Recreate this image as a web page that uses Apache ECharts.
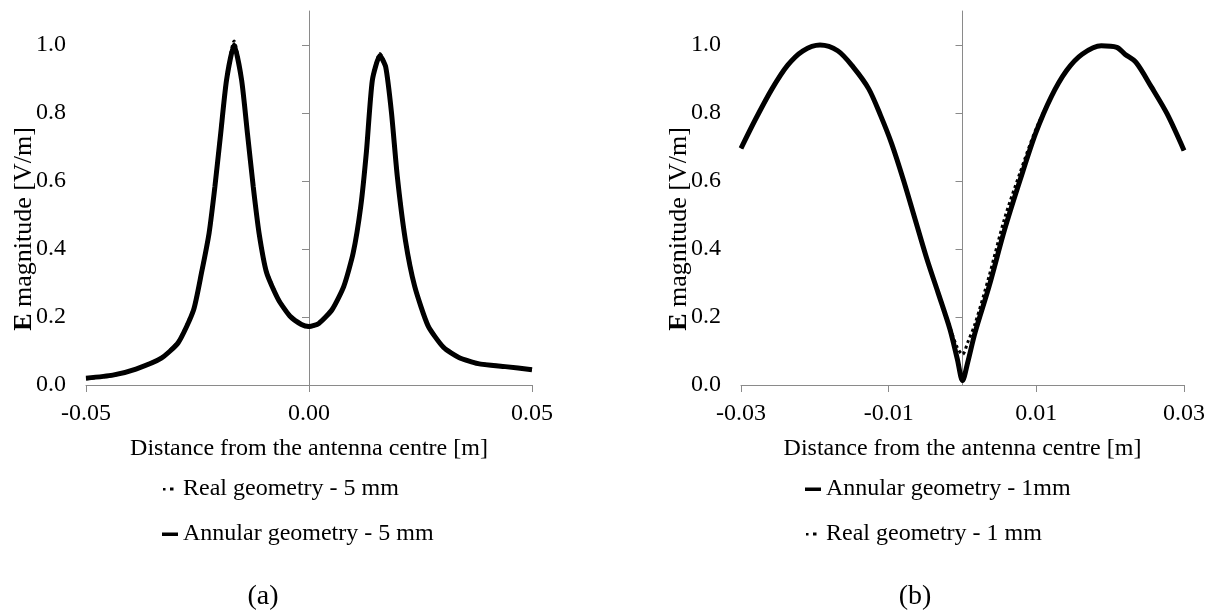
<!DOCTYPE html>
<html>
<head>
<meta charset="utf-8">
<script src="https://cdn.jsdelivr.net/npm/echarts@6/dist/echarts.min.js"></script>
<style>
  html, body { margin: 0; padding: 0; background: #fff; }
  #main { width: 1210px; height: 613px; }
</style>
</head>
<body>
<div id="main"></div>
<script>
// (a) 5 mm
const xA = [-0.05, -0.044, -0.0388, -0.0332, -0.0293, -0.0259, -0.0241, -0.0224, -0.0211, -0.0198,
  -0.0185, -0.0168, -0.0151, -0.0138, -0.0125, -0.0112, -0.0095, -0.0069, -0.0043, -0.0017,
  0, 0.0022, 0.0052, 0.0078, 0.0099, 0.0116, 0.0129, 0.0142, 0.0159, 0.0172,
  0.0185, 0.0198, 0.0216, 0.0237, 0.0267, 0.0302, 0.0336, 0.0379, 0.044, 0.05];
const realA = [0.018, 0.028, 0.046, 0.08, 0.128, 0.225, 0.335, 0.45, 0.59, 0.75,
  0.905, 1.012, 0.9, 0.745, 0.59, 0.45, 0.335, 0.255, 0.205, 0.18,
  0.17, 0.18, 0.22, 0.288, 0.385, 0.52, 0.69, 0.9, 0.975, 0.94,
  0.805, 0.62, 0.43, 0.292, 0.176, 0.112, 0.082, 0.064, 0.055, 0.046];
const annularA = [0.02, 0.029, 0.047, 0.078, 0.125, 0.22, 0.33, 0.447, 0.583, 0.74,
  0.896, 1.0, 0.896, 0.74, 0.583, 0.447, 0.33, 0.252, 0.203, 0.178,
  0.172, 0.181, 0.222, 0.29, 0.388, 0.525, 0.69, 0.896, 0.969, 0.935,
  0.80, 0.613, 0.427, 0.29, 0.174, 0.11, 0.081, 0.063, 0.054, 0.045];

// (b) 1 mm
const xB = [-0.030, -0.028, -0.0258, -0.0237, -0.0216, -0.0193, -0.0169, -0.0148, -0.0127, -0.0111,
  -0.0096, -0.008, -0.0064, -0.0048, -0.0033, -0.0017, -0.0007, 0, 0.0007, 0.0017,
  0.0036, 0.0057, 0.0078, 0.0099, 0.012, 0.0141, 0.0162, 0.0188, 0.0209, 0.022,
  0.0235, 0.0256, 0.0277, 0.030];
const annularB = [0.696, 0.783, 0.871, 0.94, 0.983, 1.0, 0.983, 0.935, 0.871, 0.793,
  0.71, 0.603, 0.486, 0.369, 0.271, 0.164, 0.076, 0.013, 0.066, 0.154,
  0.29, 0.457, 0.603, 0.74, 0.847, 0.925, 0.973, 0.998, 0.993, 0.973,
  0.949, 0.876, 0.798, 0.69];
const realB = [0.696, 0.783, 0.871, 0.94, 0.983, 1.0, 0.983, 0.935, 0.871, 0.793,
  0.71, 0.603, 0.486, 0.369, 0.275, 0.17, 0.11, 0.09, 0.125, 0.18,
  0.32, 0.49, 0.625, 0.75, 0.847, 0.925, 0.973, 0.998, 0.993, 0.973,
  0.949, 0.876, 0.798, 0.69];

// tick labels
const xTicksA = [-0.05, 0, 0.05];
const xTicksB = [-0.03, -0.01, 0.01, 0.03];
const yTicks = [0, 0.2, 0.4, 0.6, 0.8, 1.0];

const FONT = "'Liberation Serif', 'Times New Roman', serif";
const GREY = '#8a8a8a';

function zip(xs, ys) {
  return xs.map((x, i) => [x, ys[i]]);
}

function xAxisOf(idx, min, max, ticks) {
  return {
    type: 'value', gridIndex: idx, min: min, max: max,
    name: 'Distance from the antenna centre [m]',
    nameLocation: 'middle', nameGap: 52,
    nameTextStyle: { fontFamily: FONT, fontSize: 24, color: '#000' },
    axisLine: { lineStyle: { color: GREY, width: 1 } },
    axisTick: { show: true, length: 7, customValues: ticks, lineStyle: { color: GREY } },
    axisLabel: {
      customValues: ticks, margin: 17,
      fontFamily: FONT, fontSize: 24, color: '#000',
      formatter: v => v.toFixed(2)
    },
    splitLine: { show: false }
  };
}

function yAxisOf(idx) {
  return {
    type: 'value', gridIndex: idx, min: 0, max: 1.1,
    axisLine: { show: true, onZero: true, lineStyle: { color: GREY, width: 1 } },
    axisTick: { show: true, length: 7, customValues: yTicks, lineStyle: { color: GREY } },
    axisLabel: {
      customValues: yTicks, margin: 20,
      fontFamily: FONT, fontSize: 24, color: '#000',
      formatter: v => v.toFixed(1)
    },
    splitLine: { show: false }
  };
}

const solid = { color: '#000', width: 5 };
const dotted = { color: '#000', width: 3, type: 'dotted' };

const dotIcon = 'path://M0,0h0.01v0.01h-0.01z M16,5h-0.01v-0.01h0.01z M1,1.5h2.5v2.5h-2.5z M8,1h3.5v3h-3.5z';
const dashIcon = 'path://M0,1h16v3.5h-16z M0,0h0.01v0.01h-0.01z M16,5h-0.01v-0.01h0.01z';

const chart = echarts.init(document.getElementById('main'), null, { renderer: 'canvas' });

const yTitle = (x) => ({
  type: 'text', x: x, y: 229, rotation: Math.PI / 2,
  style: {
    text: '{b|E} magnitude [V/m]', align: 'center', verticalAlign: 'middle',
    fontFamily: FONT, fontSize: 26, fill: '#000',
    rich: { b: { fontFamily: FONT, fontSize: 26, fontWeight: 'bold', fill: '#000' } }
  }
});

const option = {
  backgroundColor: '#fff',
  animation: false,
  grid: [
    { left: 86, top: 11, width: 446, height: 374 },
    { left: 741, top: 11, width: 443, height: 374 }
  ],
  xAxis: [xAxisOf(0, -0.05, 0.05, xTicksA), xAxisOf(1, -0.03, 0.03, xTicksB)],
  yAxis: [yAxisOf(0), yAxisOf(1)],
  legend: [
    {
      orient: 'vertical', left: 157, top: 472, itemGap: 21,
      itemWidth: 16, itemHeight: 5,
      textStyle: { fontFamily: FONT, fontSize: 24, color: '#000' },
      data: [
        { name: 'Real geometry - 5 mm', icon: dotIcon },
        { name: 'Annular geometry - 5 mm', icon: dashIcon }
      ]
    },
    {
      orient: 'vertical', left: 800, top: 472, itemGap: 21,
      itemWidth: 16, itemHeight: 5,
      textStyle: { fontFamily: FONT, fontSize: 24, color: '#000' },
      data: [
        { name: 'Annular geometry - 1mm', icon: dashIcon },
        { name: 'Real geometry - 1 mm', icon: dotIcon }
      ]
    }
  ],
  graphic: [
    yTitle(24),
    yTitle(679),
    {
      type: 'text', x: 263, y: 597,
      style: { text: '(a)', align: 'center', verticalAlign: 'middle', fontFamily: FONT, fontSize: 28, fill: '#000' }
    },
    {
      type: 'text', x: 915, y: 597,
      style: { text: '(b)', align: 'center', verticalAlign: 'middle', fontFamily: FONT, fontSize: 28, fill: '#000' }
    }
  ],
  series: [
    {
      name: 'Annular geometry - 5 mm', type: 'line', xAxisIndex: 0, yAxisIndex: 0,
      data: zip(xA, annularA), showSymbol: false, smooth: 0.2,
      lineStyle: solid, itemStyle: { color: '#000' }
    },
    {
      name: 'Real geometry - 5 mm', type: 'line', xAxisIndex: 0, yAxisIndex: 0,
      data: zip(xA, realA), showSymbol: false, smooth: 0.2,
      lineStyle: dotted, itemStyle: { color: '#000' }
    },
    {
      name: 'Annular geometry - 1mm', type: 'line', xAxisIndex: 1, yAxisIndex: 1,
      data: zip(xB, annularB), showSymbol: false, smooth: 0.3,
      lineStyle: solid, itemStyle: { color: '#000' }
    },
    {
      name: 'Real geometry - 1 mm', type: 'line', xAxisIndex: 1, yAxisIndex: 1,
      data: zip(xB, realB), showSymbol: false, smooth: 0.3,
      lineStyle: dotted, itemStyle: { color: '#000' }
    }
  ]
};

chart.setOption(option);
</script>
</body>
</html>
